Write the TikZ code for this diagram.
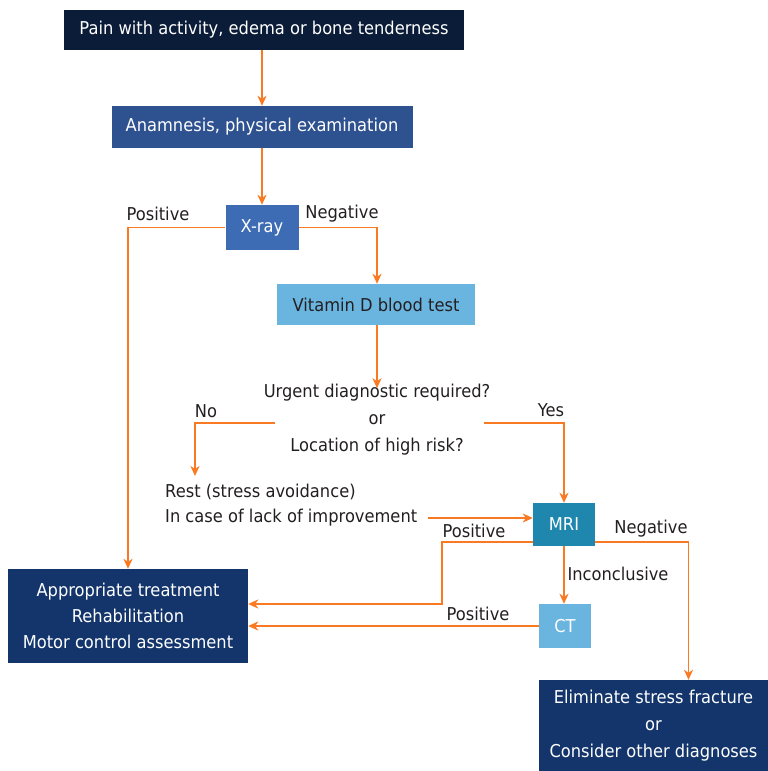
\documentclass[tikz,border=0pt]{standalone}
\usepackage{fontspec}
\setmainfont{DejaVu Sans}[FakeStretch=0.92]
\usetikzlibrary{arrows.meta}

\definecolor{navy}{HTML}{0B1C38}
\definecolor{deepblue}{HTML}{13356B}
\definecolor{midblue}{HTML}{2E5190}
\definecolor{xblue}{HTML}{3E6CB4}
\definecolor{skyblue}{HTML}{6AB4E0}
\definecolor{tealblue}{HTML}{1F87AE}
\definecolor{flowline}{HTML}{F97A22}
\definecolor{ink}{HTML}{231F20}

\begin{document}
\begin{tikzpicture}[
  x=1pt, y=-1pt,
  box/.style={rectangle,inner sep=0pt,align=center,font=\fontsize{17.7}{26}\selectfont},
  flow/.style={draw=flowline,line width=1.9pt,-{Stealth[length=10pt,width=9pt,inset=3pt]}},
  lbl/.style={text=ink,inner sep=0pt,font=\fontsize{17.7}{27}\selectfont}
]
  \useasboundingbox (0,0) rectangle (768,771);

  \node[box,fill=navy,text=white,minimum width=400,minimum height=40] (pain) at (264, 30) {Pain with activity, edema or bone tenderness};
  \node[box,fill=midblue,text=white,minimum width=301,minimum height=42] (anam) at (262, 127) {Anamnesis, physical examination};
  \node[box,fill=xblue,text=white,minimum width=73,minimum height=45] (xray) at (262, 227.5) {X-ray};
  \node[box,fill=skyblue,text=ink,minimum width=198,minimum height=41] (vitd) at (376, 304.5) {Vitamin D blood test};

  \node[lbl,align=center] (q) at (377, 420) {Urgent diagnostic required?\\or\\Location of high risk?};
  \node[lbl,anchor=west] (rest1) at (165, 492) {Rest (stress avoidance)};
  \node[lbl,anchor=west] (rest2) at (165, 518) {In case of lack of improvement};

  \node[box,fill=tealblue,text=white,minimum width=62,minimum height=43] (mri) at (564, 524.5) {MRI};
  \node[box,fill=skyblue,text=white,minimum width=52,minimum height=44] (ct) at (565, 626) {CT};
  \node[box,fill=deepblue,text=white,minimum width=240,minimum height=94] (treat) at (128, 616) {Appropriate treatment\\Rehabilitation\\Motor control assessment};
  \node[box,fill=deepblue,text=white,minimum width=229,minimum height=91,font=\fontsize{17.7}{27}\selectfont] (elim) at (653.5, 725.5) {Eliminate stress fracture\\or\\Consider other diagnoses};

  \node[lbl] (xpos) at (158, 214) {Positive};
  \node[lbl] (xneg) at (342, 214) {Negative};
  \node[lbl] (no) at (206, 411) {No};
  \node[lbl] (yes) at (551, 410) {Yes};
  \node[lbl] (mpos) at (474, 531) {Positive};
  \node[lbl] (mneg) at (651, 529) {Negative};
  \node[lbl] (minc) at (618, 574) {Inconclusive};
  \node[lbl] (cpos) at (478, 614) {Positive};

  \coordinate (nostart) at (275, 423);
  \coordinate (noend) at (195, 476);
  \coordinate (yesstart) at (484, 423);
  \coordinate (mbend) at (442, 604);

  \draw[flow] (pain.south -| anam.north) -- (anam.north);
  \draw[flow] (anam.south) -- (xray.north);
  \draw[flow] (xray.west) -| (treat.north);
  \draw[flow] (xray.east) -| ([xshift=1pt]vitd.north);
  \draw[flow] ([xshift=1pt]vitd.south) -- ([yshift=-4pt]q.north);
  \draw[flow] (nostart) -| (noend);
  \draw[flow] (yesstart) -| (mri.north);
  \draw[flow] ([xshift=11pt]rest2.east) -- (rest2.east -| mri.west);
  \draw[flow] ([yshift=4pt]mri.south west) -| (mbend) -- ([yshift=12pt]treat.east);
  \draw[flow] ([yshift=4pt]mri.south east) -| ([xshift=35pt]elim.north);
  \draw[flow] (mri.south) -- (mri.south |- ct.north);
  \draw[flow] (ct.west) -- (ct.west -| treat.east);
\end{tikzpicture}
\end{document}
